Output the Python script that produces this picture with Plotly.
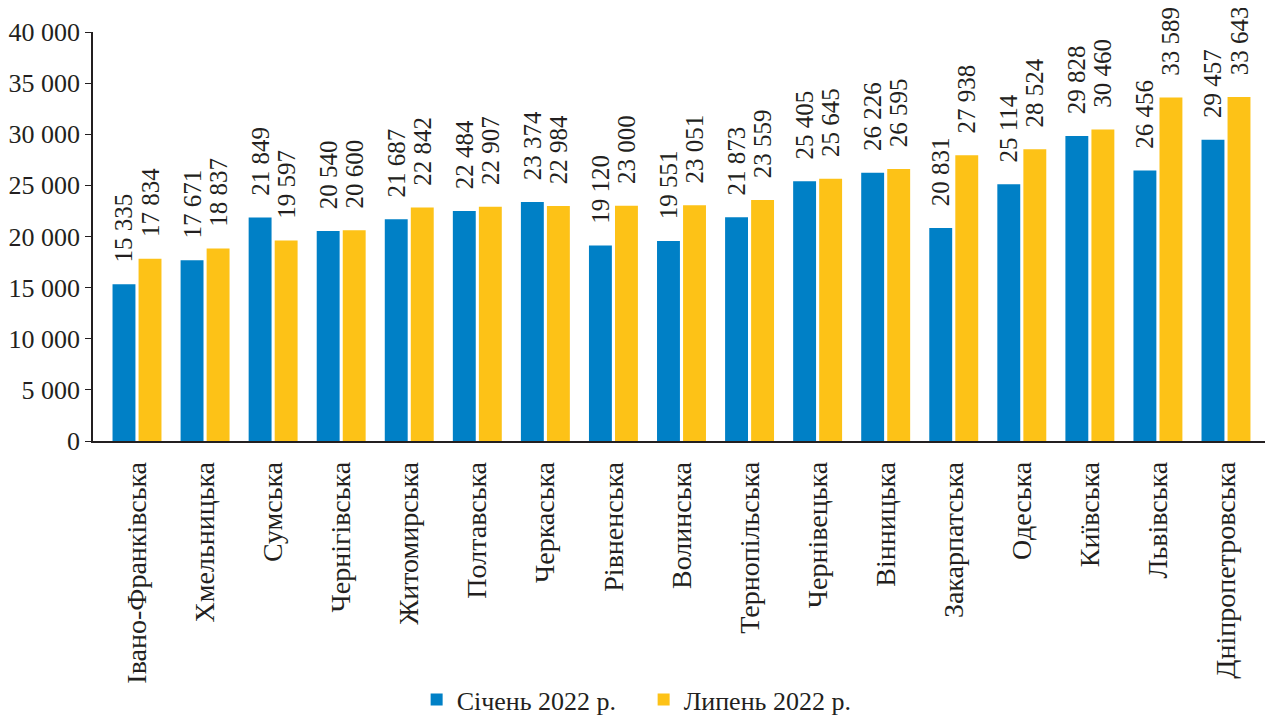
import plotly.graph_objects as go

regions = ["Івано-Франківська", "Хмельницька", "Сумська", "Чернігівська", "Житомирська",
           "Полтавська", "Черкаська", "Рівненська", "Волинська", "Тернопільська",
           "Чернівецька", "Вінницька", "Закарпатська", "Одеська", "Київська",
           "Львівська", "Дніпропетровська"]
jan_2022 = [15335, 17671, 21849, 20540, 21687, 22484, 23374, 19120, 19551, 21873,
            25405, 26226, 20831, 25114, 29828, 26456, 29457]
jul_2022 = [17834, 18837, 19597, 20600, 22842, 22907, 22984, 23000, 23051, 23559,
            25645, 26595, 27938, 28524, 30460, 33589, 33643]
series_names = ["Січень 2022 р.", "Липень 2022 р."]
y_ticks = [0, 5000, 10000, 15000, 20000, 25000, 30000, 35000, 40000]

FONT = "Liberation Serif, Times New Roman, serif"
INK = "#231F20"
PAD = "\u00a0\u00a0\u00a0"

fig = go.Figure()
for name, vals, color in [(series_names[0], jan_2022, "#0080C6"),
                          (series_names[1], jul_2022, "#FDC217")]:
    fig.add_trace(go.Bar(
        x=regions, y=vals, name=name, marker=dict(color=color, line=dict(width=0)),
        texttemplate=PAD + "%{y:,}", textposition="outside", textangle=-90,
        constraintext="none", cliponaxis=False,
        textfont=dict(family=FONT, size=25, color=INK),
    ))

fig.update_layout(
    width=1273, height=716,
    margin=dict(l=85, r=9, t=24, b=283, autoexpand=False),
    paper_bgcolor="white", plot_bgcolor="white",
    separators=". ",
    barmode="group", bargap=0.235, bargroupgap=0.12,
    font=dict(family=FONT, size=25, color=INK),
    showlegend=True,
    legend=dict(orientation="h", xref="container", yref="container",
                x=0.321, xanchor="left", y=0.034, yanchor="middle",
                entrywidth=182, entrywidthmode="pixels",
                font=dict(family=FONT, size=26, color=INK),
                traceorder="normal"),
    xaxis=dict(showline=True, linecolor=INK, linewidth=1.5, automargin=False,
               range=[-0.6465, 16.676],
               ticks="outside", ticklen=8, tickcolor="rgba(0,0,0,0)",
               tickangle=-90, showgrid=False,
               tickfont=dict(family=FONT, size=28, color=INK)),
    yaxis=dict(range=[0, 40000], tickvals=y_ticks, tickformat=",d", automargin=False,
               showline=True, linecolor=INK, linewidth=1.5,
               ticks="outside", ticklen=6, tickcolor=INK, tickwidth=1.2,
               showgrid=False, zeroline=False,
               tickfont=dict(family=FONT, size=26, color=INK)),
)

fig.write_html("out.html")
